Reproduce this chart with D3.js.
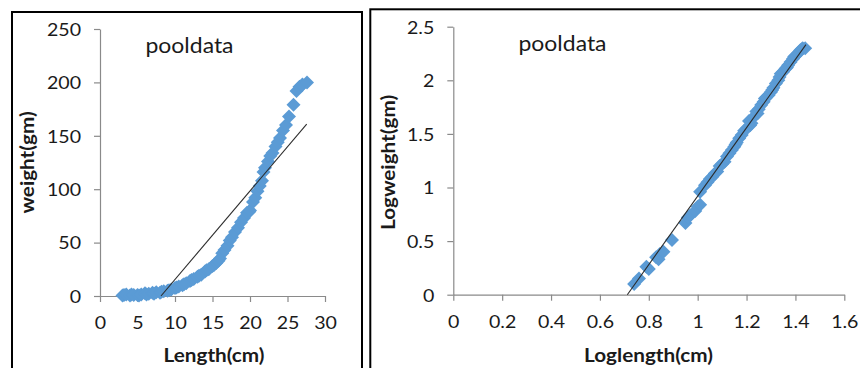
<!DOCTYPE html>
<html>
<head>
<meta charset="utf-8">
<script src="https://cdn.jsdelivr.net/npm/d3@7"></script>
<style>
  html, body { margin: 0; padding: 0; background: #fff; }
  svg { display: block; }
  text { font-family: Lato, "Open Sans", sans-serif; fill: #1a1a1a; }
</style>
</head>
<body>
<svg id="chart" width="860" height="368"></svg>
<script>
// Length / weight measurements (pool data)
const lengthCm = [3.0, 3.2, 3.5, 4.0, 4.2, 4.5, 5.0, 5.2, 5.5, 6.0, 6.2, 6.5, 7.0, 7.2, 7.5,
  8.0, 8.2, 8.5, 9.0, 9.2, 9.5, 10.0, 10.2, 10.5, 11.0, 11.2, 11.5, 12.0, 12.2, 12.5,
  13.0, 13.2, 13.5, 14.0, 14.2, 14.5, 15.0, 15.2, 15.5, 15.8, 16.0, 16.3, 16.6, 17.0,
  17.3, 17.6, 18.0, 18.4, 18.8, 19.2, 19.6, 19.9, 20.0, 20.4, 20.7, 21.0, 21.3, 21.6,
  21.8, 22.0, 22.4, 22.7, 23.0, 23.4, 23.7, 24.0, 24.4, 24.8, 25.2, 25.8, 26.2, 26.6,
  26.9, 27.0, 27.6];
const weightGm = [0.5, 1, 1.5, 0.5, 1.5, 1, 1, 0.5, 1.5, 2.5, 1.5, 2, 3, 2, 3.5,
  3, 4, 4.5, 5, 5.5, 6, 7.5, 8, 9, 10, 11, 12, 14, 15, 16,
  18, 19, 20, 23, 24, 25, 28, 29, 31, 33, 35, 40, 43, 47,
  52, 55, 60, 64, 69, 73, 78, 79, 80, 88, 92, 98, 103, 108,
  116, 120, 126, 131, 134, 140, 144, 148, 155, 160, 168, 179, 192, 196,
  197, 198, 200];

// Log-transformed measurements
const logLength = [0.74, 0.76, 0.79, 0.80, 0.83, 0.84, 0.845, 0.86, 0.895, 0.95, 0.96,
  0.97, 0.99, 1.00, 1.01, 1.01, 1.03, 1.04, 1.05, 1.06, 1.07, 1.08, 1.09, 1.10, 1.11,
  1.12, 1.13, 1.14, 1.15, 1.155, 1.16, 1.17, 1.18, 1.19, 1.20, 1.21, 1.215, 1.22, 1.23,
  1.24, 1.245, 1.25, 1.26, 1.27, 1.275, 1.28, 1.29, 1.30, 1.305, 1.31, 1.32, 1.33, 1.335,
  1.34, 1.35, 1.36, 1.365, 1.37, 1.38, 1.39, 1.395, 1.40, 1.41, 1.42, 1.425, 1.43, 1.44];
const logWeight = [0.10, 0.15, 0.26, 0.24, 0.35, 0.33, 0.38, 0.40, 0.51, 0.67, 0.72,
  0.74, 0.78, 0.82, 0.84, 0.96, 1.02, 1.05, 1.08, 1.10, 1.13, 1.15, 1.20, 1.22, 1.24,
  1.29, 1.32, 1.35, 1.38, 1.40, 1.42, 1.46, 1.49, 1.53, 1.55, 1.62, 1.58, 1.60, 1.66,
  1.71, 1.69, 1.73, 1.77, 1.80, 1.83, 1.84, 1.86, 1.89, 1.91, 1.93, 1.97, 2.00, 2.03,
  2.06, 2.08, 2.11, 2.12, 2.14, 2.17, 2.20, 2.22, 2.23, 2.25, 2.28, 2.29, 2.30, 2.30];

// Linear trend line end points
const fitLinX = [8.13, 27.56];
const fitLinY = [0, 161];
const fitLogX = [0.712, 1.443];
const fitLogY = [0, 2.333];

// Tick values
const xTicksLin = [0, 5, 10, 15, 20, 25, 30];
const yTicksLin = [0, 50, 100, 150, 200, 250];
const xTicksLog = [0, 0.2, 0.4, 0.6, 0.8, 1, 1.2, 1.4, 1.6];
const yTicksLog = [0, 0.5, 1, 1.5, 2, 2.5];

const SX = 1.12;          // horizontal text stretch
const markerColor = "#5b9bd5";
const axisColor = "#8a8a8a";

const svg = d3.select("#chart");

// panel frames
svg.append("rect").attr("x", 12).attr("y", 12).attr("width", 350).attr("height", 420)
  .attr("fill", "none").attr("stroke", "#000").attr("stroke-width", 2);
svg.append("rect").attr("x", 370.3).attr("y", 9.3).attr("width", 540).attr("height", 420)
  .attr("fill", "none").attr("stroke", "#000").attr("stroke-width", 2);

const diamond = r => `M0,${-r}L${r},0L0,${r}L${-r},0Z`;

function panel(cfg) {
  const x = d3.scaleLinear().domain(cfg.xDomain).range(cfg.xRange);
  const y = d3.scaleLinear().domain(cfg.yDomain).range(cfg.yRange);
  const g = svg.append("g");

  const xAxis = g.append("g")
    .attr("transform", `translate(0,${cfg.yRange[0]})`)
    .call(d3.axisBottom(x).tickValues(cfg.xTicks).tickSize(6).tickSizeOuter(0)
      .tickFormat(d3.format("")));
  const yAxis = g.append("g")
    .attr("transform", `translate(${cfg.xRange[0]},0)`)
    .call(d3.axisLeft(y).tickValues(cfg.yTicks).tickSize(6).tickSizeOuter(0)
      .tickFormat(d3.format("")));

  [xAxis, yAxis].forEach(a => {
    a.select(".domain").attr("stroke", axisColor).attr("stroke-width", 1.2);
    a.selectAll(".tick line").attr("stroke", axisColor).attr("stroke-width", 1.2);
    a.selectAll(".tick text").attr("font-family", "Lato, sans-serif")
      .attr("font-size", 17.5).attr("fill", "#1a1a1a");
  });
  xAxis.selectAll(".tick text").attr("y", 33).attr("dy", 0)
    .attr("transform", `scale(${SX},1)`);
  yAxis.selectAll(".tick text").attr("x", -19 / SX).attr("dy", "0.36em")
    .attr("transform", `scale(${SX},1)`);

  // data markers
  g.append("g").selectAll("path")
    .data(cfg.xs.map((v, i) => [v, cfg.ys[i]]))
    .join("path")
    .attr("d", diamond(7))
    .attr("transform", d => `translate(${x(d[0])},${y(d[1])})`)
    .attr("fill", markerColor);

  // trend line
  g.append("line")
    .attr("x1", x(cfg.fitX[0])).attr("y1", y(cfg.fitY[0]))
    .attr("x2", x(cfg.fitX[1])).attr("y2", y(cfg.fitY[1]))
    .attr("stroke", "#2b2b2b").attr("stroke-width", 1.1);

  // titles
  const label = (txt, cx, cy, size, weight, rotate) => {
    g.append("g")
      .attr("transform", `translate(${cx},${cy})${rotate ? " rotate(-90)" : ""} scale(${SX},1)`)
      .append("text")
      .attr("text-anchor", "middle")
      .attr("font-size", size).attr("font-weight", weight)
      .text(txt);
  };
  label(cfg.name, cfg.nameX, cfg.nameY, 20.5, 400, false);
  label(cfg.xTitle, cfg.xTitleX, 362, 18.5, 700, false);
  label(cfg.yTitle, cfg.yTitleX, 162.5, 18.5, 700, true);
}

panel({
  xDomain: [0, 30], xRange: [100, 325],
  yDomain: [0, 250], yRange: [296, 29],
  xTicks: xTicksLin, yTicks: yTicksLin,
  xs: lengthCm, ys: weightGm,
  fitX: fitLinX, fitY: fitLinY,
  name: "pooldata", nameX: 189.5, nameY: 53,
  xTitle: "Length(cm)", xTitleX: 214,
  yTitle: "weight(gm)", yTitleX: 34
});

panel({
  xDomain: [0, 1.6], xRange: [453.3, 844.3],
  yDomain: [0, 2.5], yRange: [294.7, 26.7],
  xTicks: xTicksLog, yTicks: yTicksLog,
  xs: logLength, ys: logWeight,
  fitX: fitLogX, fitY: fitLogY,
  name: "pooldata", nameX: 562.5, nameY: 51,
  xTitle: "Loglength(cm)", xTitleX: 648.5,
  yTitle: "Logweight(gm)", yTitleX: 395
});
</script>
</body>
</html>
